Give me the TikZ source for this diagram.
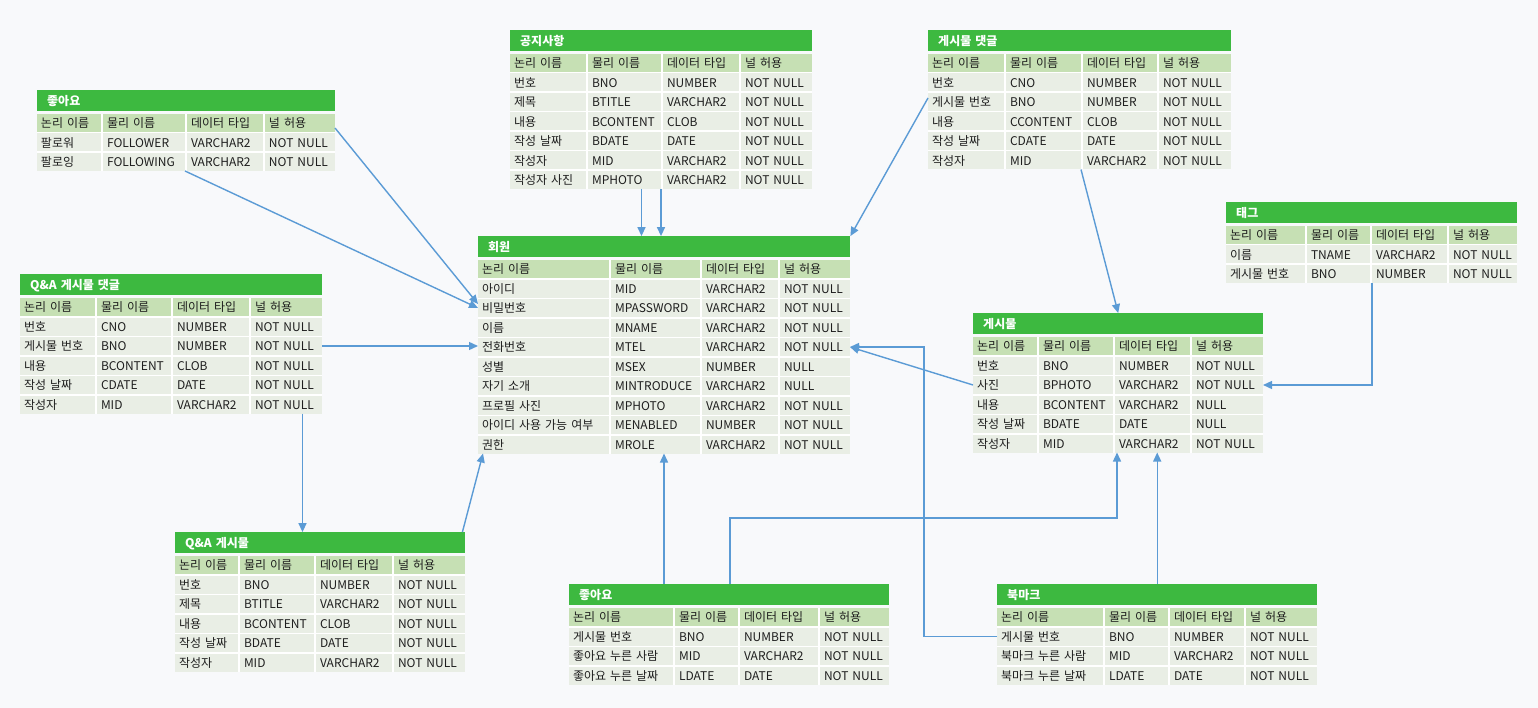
\documentclass[tikz,border=0pt]{standalone}
\usepackage{fontspec}
\setmainfont{Noto Sans CJK KR}
\usepackage{xcolor}
\usetikzlibrary{calc}
\usetikzlibrary{arrows.meta}
\usetikzlibrary{matrix}

\definecolor{bgcol}{RGB}{248,249,251}
\definecolor{titlegreen}{RGB}{61,185,64}
\definecolor{headgreen}{RGB}{198,224,180}
\definecolor{rowgray}{RGB}{233,238,229}
\definecolor{inkgray}{RGB}{30,30,30}
\definecolor{linkblue}{RGB}{91,155,213}

\begin{document}
\begin{tikzpicture}[x=1pt, y=-1pt]

\tikzset{
    cell/.style = {
    fill=rowgray, text=inkgray, inner xsep=4pt, inner ysep=0pt,
    minimum height=18pt, text height=11pt, text depth=1.5pt,
    font=\fontsize{12pt}{13pt}\selectfont
    },
    erd/.style n args = {4}{
    matrix of nodes, nodes={cell}, fill=white, inner sep=0pt, outer sep=0pt,
    column sep=2pt, row sep=1.5pt, anchor=north west,
    row 1/.style={nodes={fill=headgreen}},
    column 1/.style={nodes={text width=#1}},
    column 2/.style={nodes={text width=#2}},
    column 3/.style={nodes={text width=#3}},
    column 4/.style={nodes={text width=#4}}
    }
}

\tikzstyle{title}=[fill=titlegreen, text=white, anchor=south west, inner xsep=10pt, inner ysep=0pt, minimum height=21pt, text height=11pt, text depth=1.5pt, font=\fontsize{12pt}{13pt}\selectfont\bfseries]
\tikzstyle{link}=[draw=linkblue, line width=1.4pt, -{Triangle[length=9pt,width=8pt]}]

\fill [bgcol] (0,0) rectangle (1538,708);
\useasboundingbox (0,0) rectangle (1538,708);

% tables
\matrix (follow) [erd={56pt}{74pt}{68pt}{62pt}] at (37,114)
{
논리 이름 & 물리 이름 & 데이터 타입 & 널 허용 \\
팔로워 & FOLLOWER & VARCHAR2 & NOT NULL \\
팔로잉 & FOLLOWING & VARCHAR2 & NOT NULL \\
};
\node (follow-title) [title, text width=278pt] at ([yshift=2.5pt]follow.north west) {좋아요};

\matrix (notice) [erd={68pt}{65pt}{68pt}{63pt}] at (510,54)
{
논리 이름 & 물리 이름 & 데이터 타입 & 널 허용 \\
번호 & BNO & NUMBER & NOT NULL \\
제목 & BTITLE & VARCHAR2 & NOT NULL \\
내용 & BCONTENT & CLOB & NOT NULL \\
작성 날짜 & BDATE & DATE & NOT NULL \\
작성자 & MID & VARCHAR2 & NOT NULL \\
작성자 사진 & MPHOTO & VARCHAR2 & NOT NULL \\
};
\node (notice-title) [title, text width=282pt] at ([yshift=2.5pt]notice.north west) {공지사항};

\matrix (bcomment) [erd={68pt}{67pt}{66pt}{64pt}] at (928,54)
{
논리 이름 & 물리 이름 & 데이터 타입 & 널 허용 \\
번호 & CNO & NUMBER & NOT NULL \\
게시물 번호 & BNO & NUMBER & NOT NULL \\
내용 & CCONTENT & CLOB & NOT NULL \\
작성 날짜 & CDATE & DATE & NOT NULL \\
작성자 & MID & VARCHAR2 & NOT NULL \\
};
\node (bcomment-title) [title, text width=283pt] at ([yshift=2.5pt]bcomment.north west) {게시물 댓글};

\matrix (member) [erd={123pt}{81pt}{68pt}{62pt}] at (478,260)
{
논리 이름 & 물리 이름 & 데이터 타입 & 널 허용 \\
아이디 & MID & VARCHAR2 & NOT NULL \\
비밀번호 & MPASSWORD & VARCHAR2 & NOT NULL \\
이름 & MNAME & VARCHAR2 & NOT NULL \\
전화번호 & MTEL & VARCHAR2 & NOT NULL \\
성별 & MSEX & NUMBER & NULL \\
자기 소개 & MINTRODUCE & VARCHAR2 & NULL \\
프로필 사진 & MPHOTO & VARCHAR2 & NOT NULL \\
아이디 사용 가능 여부 & MENABLED & NUMBER & NOT NULL \\
권한 & MROLE & VARCHAR2 & NOT NULL \\
};
\node (member-title) [title, text width=352pt] at ([yshift=2.5pt]member.north west) {회원};

\matrix (qcomment) [erd={67pt}{66pt}{68pt}{63pt}] at (20,298)
{
논리 이름 & 물리 이름 & 데이터 타입 & 널 허용 \\
번호 & CNO & NUMBER & NOT NULL \\
게시물 번호 & BNO & NUMBER & NOT NULL \\
내용 & BCONTENT & CLOB & NOT NULL \\
작성 날짜 & CDATE & DATE & NOT NULL \\
작성자 & MID & VARCHAR2 & NOT NULL \\
};
\node (qcomment-title) [title, text width=282pt] at ([yshift=2.5pt]qcomment.north west) {Q\&A 게시물 댓글};

\matrix (tag) [erd={71pt}{55pt}{67pt}{60pt}] at (1226,226)
{
논리 이름 & 물리 이름 & 데이터 타입 & 널 허용 \\
이름 & TNAME & VARCHAR2 & NOT NULL \\
게시물 번호 & BNO & NUMBER & NOT NULL \\
};
\node (tag-title) [title, text width=271pt] at ([yshift=2.5pt]tag.north west) {태그};

\matrix (board) [erd={56pt}{66pt}{67pt}{63pt}] at (973,337)
{
논리 이름 & 물리 이름 & 데이터 타입 & 널 허용 \\
번호 & BNO & NUMBER & NOT NULL \\
사진 & BPHOTO & VARCHAR2 & NOT NULL \\
내용 & BCONTENT & VARCHAR2 & NULL \\
작성 날짜 & BDATE & DATE & NULL \\
작성자 & MID & VARCHAR2 & NOT NULL \\
};
\node (board-title) [title, text width=270pt] at ([yshift=2.5pt]board.north west) {게시물};

\matrix (qboard) [erd={55pt}{66pt}{68pt}{63pt}] at (175,556)
{
논리 이름 & 물리 이름 & 데이터 타입 & 널 허용 \\
번호 & BNO & NUMBER & NOT NULL \\
제목 & BTITLE & VARCHAR2 & NOT NULL \\
내용 & BCONTENT & CLOB & NOT NULL \\
작성 날짜 & BDATE & DATE & NOT NULL \\
작성자 & MID & VARCHAR2 & NOT NULL \\
};
\node (qboard-title) [title, text width=270pt] at ([yshift=2.5pt]qboard.north west) {Q\&A 게시물};

\matrix (like) [erd={96pt}{55pt}{70pt}{61pt}] at (569,608)
{
논리 이름 & 물리 이름 & 데이터 타입 & 널 허용 \\
게시물 번호 & BNO & NUMBER & NOT NULL \\
좋아요 누른 사람 & MID & VARCHAR2 & NOT NULL \\
좋아요 누른 날짜 & LDATE & DATE & NOT NULL \\
};
\node (like-title) [title, text width=300pt] at ([yshift=2.5pt]like.north west) {좋아요};

\matrix (bookmark) [erd={98pt}{55pt}{66pt}{63pt}] at (997,608)
{
논리 이름 & 물리 이름 & 데이터 타입 & 널 허용 \\
게시물 번호 & BNO & NUMBER & NOT NULL \\
북마크 누른 사람 & MID & VARCHAR2 & NOT NULL \\
북마크 누른 날짜 & LDATE & DATE & NOT NULL \\
};
\node (bookmark-title) [title, text width=300pt] at ([yshift=2.5pt]bookmark.north west) {북마크};

% links
\draw [link] (follow-3-2.south east) -- (member-3-1.west);
\draw [link] ([yshift=-5pt]follow-1-4.east) -- ([yshift=4pt]member-3-1.west);
\draw [link] (qcomment-3-4.east) -- (qcomment-3-4.east -| member-5-1.west);
\draw [link] ([xshift=16pt]qcomment-6-4.south) -- ([xshift=16pt]qcomment-6-4.south |- qboard-title.north);
\draw [link] ([xshift=-3pt]qboard-title.north east) -- ([xshift=5pt]member-10-1.south west);
\draw [link] ([xshift=17pt]notice-7-2.south) -- ([xshift=17pt]notice-7-2.south |- member-title.north);
\draw [link] (notice-7-2.south east) -- (notice-7-2.south east |- member-title.north);
\draw [link] ([yshift=4pt]bcomment-3-1.west) -- (member-title.north east);
\draw [link] (bcomment-6-2.south east) -- (board-title.north);
\draw [link] (board-3-1.west) -- (member-5-4.east);
\draw [link] (bookmark-2-1.west) -- ([xshift=-73pt]bookmark-2-1.west) |- (member-5-4.east);
\draw [link] (tag-3-3.south west) |- (board-3-4.east);
\draw [link] ([xshift=95pt]like-title.north west) -- ([xshift=95pt]like-title.north west |- member-10-2.south);
\draw [link] ([xshift=161pt]like-title.north west) -- ++(0,-66) -| ([xshift=2pt]board-6-3.south west);
\draw [link] (bookmark-title.north) -- (bookmark-title.north |- board-6-3.south);

\end{tikzpicture}
\end{document}
